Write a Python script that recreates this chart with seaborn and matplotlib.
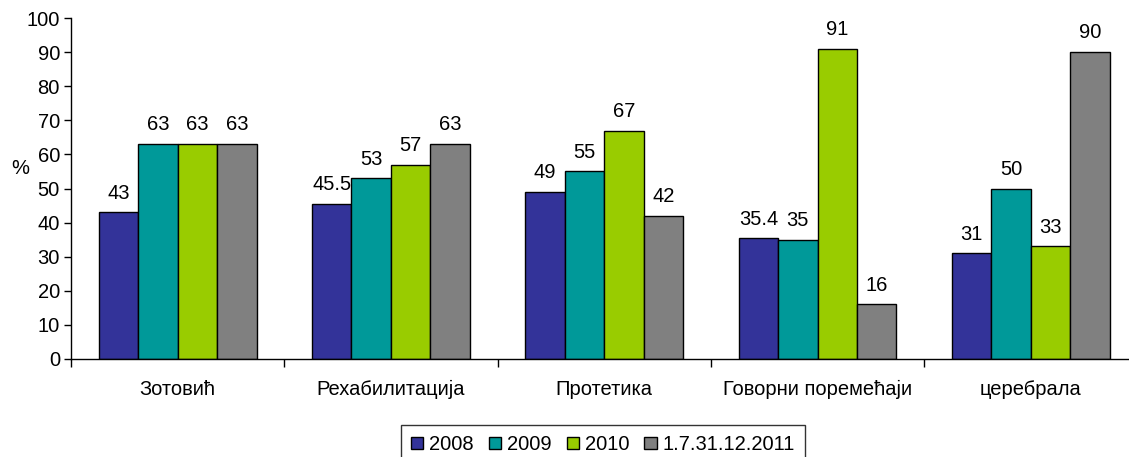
import pandas as pd
import numpy as np
import matplotlib
matplotlib.use('Agg')
import matplotlib.pyplot as plt
import seaborn as sns

categories = ['Зотовић', 'Рехабилитација', 'Протетика', 'Говорни поремећаји', 'церебрала']
periods = ['2008', '2009', '2010', '1.7.31.12.2011']
v2008 = [43, 45.5, 49, 35.4, 31]
v2009 = [63, 53, 55, 35, 50]
v2010 = [63, 57, 67, 91, 33]
v2011 = [63, 63, 42, 16, 90]
colors = ['#333399', '#009999', '#99CC00', '#808080']

rows = []
for per, vals in zip(periods, [v2008, v2009, v2010, v2011]):
    for cat, v in zip(categories, vals):
        rows.append({'cat': cat, 'period': per, 'value': v})
df = pd.DataFrame(rows)

sns.set_style('white')
plt.rcParams['font.family'] = ['Liberation Sans', 'DejaVu Sans']
plt.rcParams['text.color'] = 'black'
plt.rcParams['xtick.color'] = 'black'
plt.rcParams['ytick.color'] = 'black'
fs = 14.5

fig = plt.figure(figsize=(11.29, 4.57), dpi=100)
ax = fig.add_axes([71 / 1129, 98 / 457, 1 - 71 / 1129, 341 / 457])

sns.barplot(data=df, x='cat', y='value', hue='period', order=categories,
            hue_order=periods, palette=colors, width=0.74, edgecolor='black',
            linewidth=1, saturation=1, ax=ax)

for cont in ax.containers:
    labels = [('%g' % b.get_height()) for b in cont]
    ax.bar_label(cont, labels=labels, padding=7, fontsize=fs, color='black')

ax.set_ylim(0, 100)
ax.set_xlim(-0.5, 4.46)
ax.set_yticks(range(0, 101, 10))
ax.tick_params(axis='y', labelsize=fs, length=5, width=1, direction='out', left=True, pad=3,
               colors='black')
ax.tick_params(axis='x', which='major', labelsize=fs, length=0, pad=15, colors='black')
ax.set_xticks(np.arange(-0.5, 4.5, 1), minor=True)
ax.tick_params(axis='x', which='minor', length=6, width=1, direction='out', bottom=True,
               colors='black')
ax.set_xlabel('')
ax.set_ylabel('')
for s in ['top', 'right']:
    ax.spines[s].set_visible(False)
for s in ['left', 'bottom']:
    ax.spines[s].set_color('black')
    ax.spines[s].set_linewidth(1)

fig.text(20 / 1129, 1 - 168 / 457, '%', fontsize=fs, ha='center', va='center')

leg = ax.legend(loc='upper center', bbox_to_anchor=(603 / 1129, 1 - 425 / 457),
                bbox_transform=fig.transFigure, ncol=4, fontsize=fs, frameon=True,
                fancybox=False, handlelength=0.6, handleheight=0.6,
                handletextpad=0.3, columnspacing=0.75, borderpad=0.5,
                borderaxespad=0)
leg.get_frame().set_edgecolor('black')
leg.get_frame().set_linewidth(1)

fig.savefig('out.png', dpi=100)
